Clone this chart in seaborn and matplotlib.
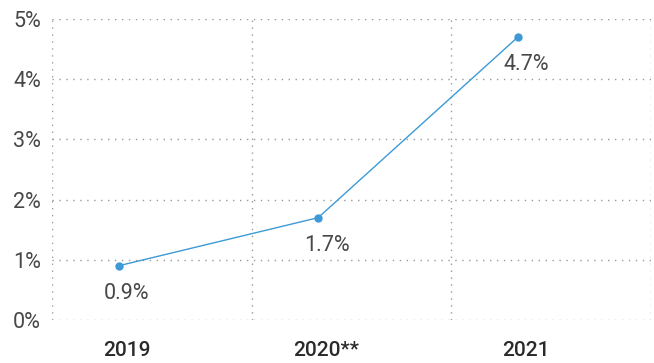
import matplotlib
matplotlib.use("Agg")
import matplotlib.pyplot as plt
import seaborn as sns
import pandas as pd
from matplotlib.ticker import FixedLocator

years = ["2019", "2020**", "2021"]
growth = [0.9, 1.7, 4.7]
y_ticks = [0, 1, 2, 3, 4, 5]
y_tick_labels = ["0%", "1%", "2%", "3%", "4%", "5%"]

sns.set_theme(style="white")
plt.rcParams["font.family"] = ["Roboto", "DejaVu Sans"]

df = pd.DataFrame({"pos": range(len(years)), "growth": growth})

fig = plt.figure(figsize=(6.54, 3.63), dpi=100)
ax = fig.add_axes([0.0795, 0.1185, 0.9159, 0.8292])

line_color = "#3d9ad6"
sns.lineplot(data=df, x="pos", y="growth", ax=ax, color=line_color,
             linewidth=1.0, marker="o", markersize=6, markeredgewidth=0)

for x, v in zip(df["pos"], df["growth"]):
    ax.annotate(f"{v:.1f}%", (x, v), xytext=(6, -20), textcoords="offset points",
                ha="center", va="center", fontsize=15.5, fontweight="normal",
                color="#484848")

ax.set_xlim(-1 / 3, len(years) - 1 / 3)
ax.set_ylim(0, 5)

# category labels sit at the point positions; band edges carry the grid
ax.set_xticks([p + 0.04 for p in df["pos"]])
ax.set_xticklabels(years, fontsize=15, fontweight="medium", color="#2a2a2a")
ax.xaxis.set_minor_locator(FixedLocator([-1 / 3, 2 / 3, 5 / 3, 8 / 3]))
ax.set_yticks(y_ticks)
ax.set_yticklabels(y_tick_labels, fontsize=15.5, fontweight="normal", color="#484848")

ax.tick_params(axis="both", which="both", length=0)
ax.tick_params(axis="x", pad=15)
ax.tick_params(axis="y", pad=8)

ax.grid(False)
ax.grid(axis="y", which="major", linestyle=(0, (1, 4)), color="#999999", linewidth=1)
ax.grid(axis="x", which="minor", linestyle=(0, (1, 4)), color="#999999", linewidth=1)

for s in ax.spines.values():
    s.set_visible(False)

ax.set_xlabel("")
ax.set_ylabel("")
fig.savefig("out.png", dpi=100)
